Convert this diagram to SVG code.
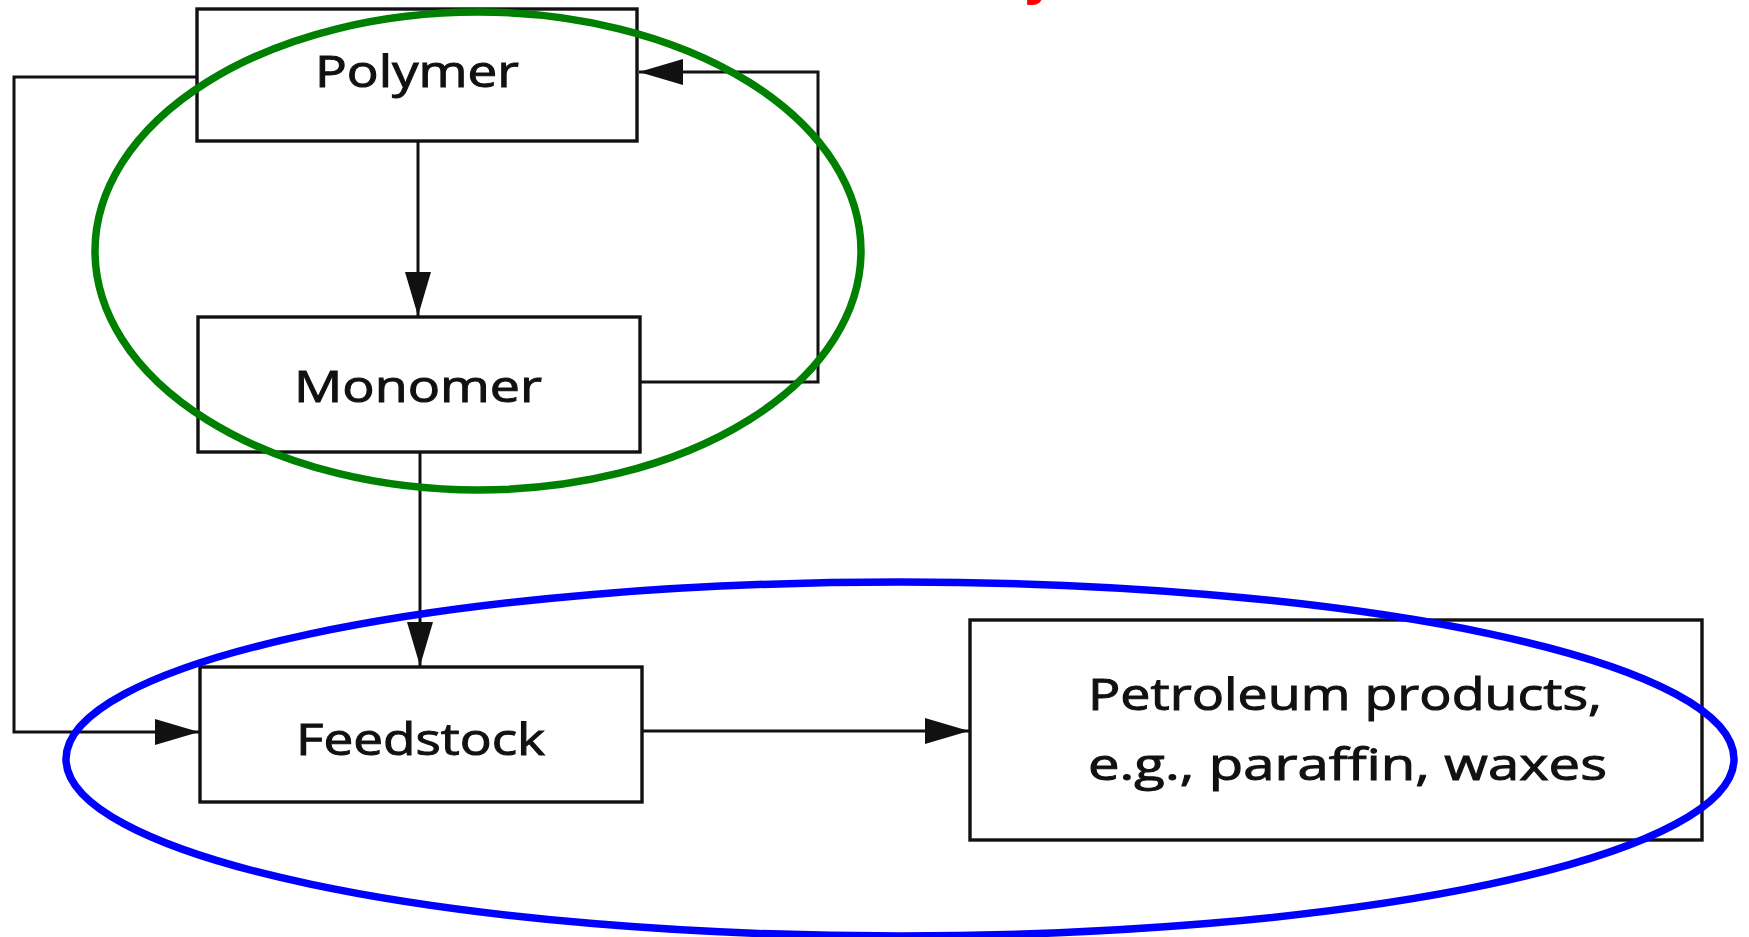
<svg xmlns="http://www.w3.org/2000/svg" width="1749" height="937" viewBox="0 0 1749 937">
  <style>
    .box { fill: #ffffff; stroke: #111111; stroke-width: 3.4; }
    .lbl { font-family: "Open Sans", "Noto Sans", "Liberation Sans", sans-serif; font-size: 44px; fill: #111111; stroke: #111111; stroke-width: 1; }
    .conn { fill: none; stroke: #111111; stroke-width: 3; }
    .hl { fill: none; stroke-width: 7.5; }
  </style>
  <defs>
    <marker id="arrow" markerUnits="userSpaceOnUse" viewBox="0 0 44 26" refX="44" refY="13" markerWidth="44" markerHeight="26" orient="auto">
      <path d="M0,0 L44,13 L0,26 Z" fill="#111111"/>
    </marker>
  </defs>
  <rect width="1749" height="937" fill="#ffffff"/>

  <text x="1024" y="-7" font-family="Liberation Sans, sans-serif" font-weight="bold" font-size="60" fill="#ff0000">y</text>

  <g id="connectors">
    <path class="conn" d="M418,141 L418,316" marker-end="url(#arrow)"/>
    <path class="conn" d="M420,452 L420,666" marker-end="url(#arrow)"/>
    <path class="conn" d="M642,731 L969,731" marker-end="url(#arrow)"/>
    <path class="conn" d="M640,382 L818,382 L818,72 L639,72" marker-end="url(#arrow)"/>
    <path class="conn" d="M197,77 L14,77 L14,732 L199,732" marker-end="url(#arrow)"/>
  </g>

  <g id="polymer">
    <rect class="box" x="197" y="9" width="440" height="132"/>
    <text class="lbl" x="315" y="87" textLength="204" lengthAdjust="spacingAndGlyphs">Polymer</text>
  </g>
  <g id="monomer">
    <rect class="box" x="198" y="317" width="442" height="135"/>
    <text class="lbl" x="294" y="402" textLength="248" lengthAdjust="spacingAndGlyphs">Monomer</text>
  </g>
  <g id="feedstock">
    <rect class="box" x="200" y="667" width="442" height="135"/>
    <text class="lbl" x="296" y="755" textLength="249" lengthAdjust="spacingAndGlyphs">Feedstock</text>
  </g>
  <g id="petroleum">
    <rect class="box" x="970" y="620" width="732" height="220"/>
    <text class="lbl" x="1088" y="710" textLength="514" lengthAdjust="spacingAndGlyphs">Petroleum products,</text>
    <text class="lbl" x="1088" y="780" textLength="519" lengthAdjust="spacingAndGlyphs">e.g., paraffin, waxes</text>
  </g>

  <g id="highlights">
    <ellipse class="hl" cx="478" cy="251" rx="383" ry="239" stroke="#008000"/>
    <ellipse class="hl" cx="900" cy="759" rx="834" ry="177" stroke="#0000ff"/>
  </g>
</svg>
